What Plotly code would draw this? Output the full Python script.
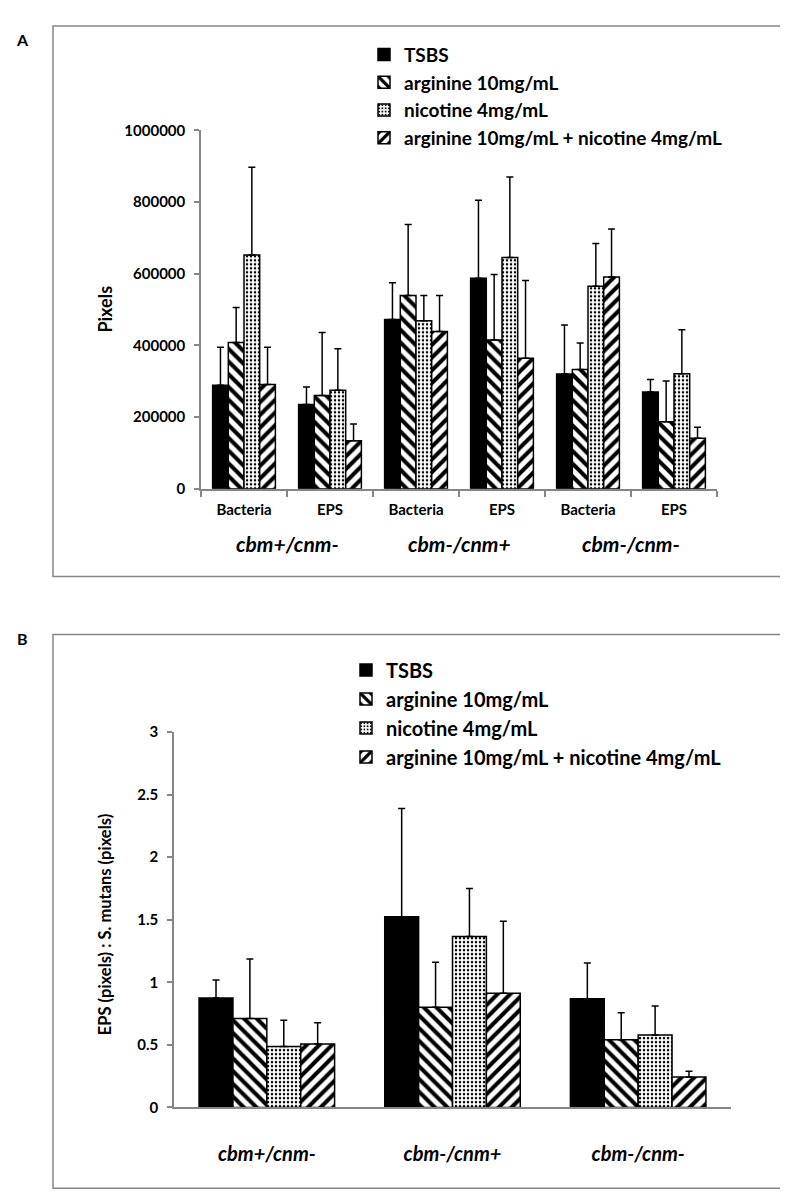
import plotly.graph_objects as go

# ---------------- data ----------------
series_names = ["TSBS", "arginine 10mg/mL", "nicotine 4mg/mL",
                "arginine 10mg/mL + nicotine 4mg/mL"]

# Panel A: 6 bars per series (Bacteria / EPS for each strain)
sub_labels_a = ["Bacteria", "EPS", "Bacteria", "EPS", "Bacteria", "EPS"]
strain_labels = ["cbm+/cnm-", "cbm-/cnm+", "cbm-/cnm-"]

tsbs_a = [289000, 235000, 472000, 587000, 320000, 270000]
tsbs_a_sd = [106000, 49000, 103000, 218000, 137000, 35000]
arg_a = [408000, 260000, 539000, 415000, 333000, 187000]
arg_a_sd = [98000, 176000, 198000, 183000, 74000, 114000]
nic_a = [652000, 275000, 469000, 645000, 565000, 321000]
nic_a_sd = [245000, 116000, 70000, 225000, 119000, 123000]
combo_a = [291000, 134000, 439000, 364000, 591000, 141000]
combo_a_sd = [104000, 47000, 100000, 217000, 134000, 31000]

# Panel B: EPS : S. mutans ratio per strain
tsbs_b = [0.874, 1.525, 0.869]
tsbs_b_sd = [0.144, 0.865, 0.286]
arg_b = [0.711, 0.80, 0.541]
arg_b_sd = [0.475, 0.36, 0.215]
nic_b = [0.486, 1.367, 0.578]
nic_b_sd = [0.21, 0.383, 0.233]
combo_b = [0.507, 0.913, 0.244]
combo_b_sd = [0.17, 0.575, 0.045]

yticks_a = [0, 200000, 400000, 600000, 800000, 1000000]
yticks_b = [0, 0.5, 1, 1.5, 2, 2.5, 3]

# ---------------- styling ----------------
FONT = "Lato"
W, H = 788, 1201
GRAY = "#868686"

patterns = [
    dict(shape=""),
    dict(shape="\\", size=9, solidity=0.45, fgcolor="black", bgcolor="white", fillmode="replace"),
    dict(shape=".", size=4, solidity=0.3, fgcolor="black", bgcolor="white", fillmode="replace"),
    dict(shape="/", size=9, solidity=0.45, fgcolor="black", bgcolor="white", fillmode="replace"),
]
colors = ["black", "white", "white", "white"]

def py(px):
    return 1 - px / H

def px_x(px):
    return px / W

fig = go.Figure()

data_a = [(tsbs_a, tsbs_a_sd), (arg_a, arg_a_sd), (nic_a, nic_a_sd), (combo_a, combo_a_sd)]
data_b = [(tsbs_b, tsbs_b_sd), (arg_b, arg_b_sd), (nic_b, nic_b_sd), (combo_b, combo_b_sd)]

x_a = list(range(len(sub_labels_a)))

for i, (name, (vals, sd)) in enumerate(zip(series_names, data_a)):
    fig.add_trace(go.Bar(
        x=x_a, y=vals, name=name, xaxis="x", yaxis="y", legend="legend",
        marker=dict(color=colors[i], line=dict(color="black", width=1.5), pattern=patterns[i]),
        error_y=dict(type="data", array=sd, arrayminus=[0] * len(sd), symmetric=False,
                     color="black", thickness=1.5, width=3.5),
    ))

for i, (name, (vals, sd)) in enumerate(zip(series_names, data_b)):
    fig.add_trace(go.Bar(
        x=strain_labels, y=vals, name=name, xaxis="x2", yaxis="y2", legend="legend2",
        marker=dict(color=colors[i], line=dict(color="black", width=1.5), pattern=patterns[i]),
        error_y=dict(type="data", array=sd, arrayminus=[0] * len(sd), symmetric=False,
                     color="black", thickness=1.5, width=3.5),
    ))

tickfont = dict(family=FONT, size=15, color="black", weight="bold")

fig.update_layout(
    width=W, height=H,
    margin=dict(l=0, r=0, t=0, b=0),
    paper_bgcolor="white", plot_bgcolor="white",
    barmode="group", bargap=0.27, bargroupgap=0,
    font=dict(family=FONT, color="black"),
    xaxis=dict(
        domain=[px_x(193), px_x(709)], anchor="y",
        range=[-0.5, 5.5], tickmode="array", tickvals=x_a, ticktext=sub_labels_a,
        ticks="", showline=True, linecolor=GRAY, linewidth=1.5,
        tickfont=tickfont, ticklabelstandoff=6, showgrid=False, zeroline=False,
        minor=dict(tickmode="array", tickvals=[v - 0.5 for v in range(len(sub_labels_a) + 1)],
                   ticks="outside", ticklen=6, tickcolor=GRAY, tickwidth=1.5, showgrid=False),
    ),
    yaxis=dict(
        domain=[py(478), py(114)], anchor="x",
        range=[0, 1000000], tickmode="array", tickvals=yticks_a,
        ticktext=[str(v) for v in yticks_a],
        ticks="outside", ticklen=5, tickcolor=GRAY, tickwidth=1.5,
        showline=True, linecolor=GRAY, linewidth=1.5, showgrid=False, zeroline=False,
        tickfont=tickfont, ticklabelstandoff=6,
    ),
    xaxis2=dict(
        domain=[px_x(166), px_x(723)], anchor="y2",
        type="category", ticks="", showline=True, linecolor=GRAY, linewidth=1.5,
        tickfont=dict(family=FONT, size=20, color="black", weight="bold", style="italic"),
        ticklabelstandoff=28, showgrid=False, zeroline=False,
    ),
    yaxis2=dict(
        domain=[py(1106), py(725)], anchor="x2",
        range=[0, 3], tickmode="array", tickvals=yticks_b,
        ticks="outside", ticklen=5, tickcolor=GRAY, tickwidth=1.5,
        showline=True, linecolor=GRAY, linewidth=1.5, showgrid=False, zeroline=False,
        tickfont=tickfont, ticklabelstandoff=6,
    ),
    legend=dict(
        x=px_x(356), y=py(18), xanchor="left", yanchor="top",
        font=dict(family=FONT, size=19, color="black", weight="bold"),
        bgcolor="rgba(0,0,0,0)", tracegroupgap=0, itemwidth=30,
    ),
    legend2=dict(
        x=px_x(338), y=py(642), xanchor="left", yanchor="top",
        font=dict(family=FONT, size=20, color="black", weight="bold"),
        bgcolor="rgba(0,0,0,0)", tracegroupgap=0, itemwidth=30,
    ),
)

# frames around each panel
fig.add_shape(type="rect", xref="paper", yref="paper",
              x0=px_x(45), x1=px_x(773), y0=py(567), y1=py(8),
              line=dict(color=GRAY, width=1.5), fillcolor="rgba(0,0,0,0)", layer="below")
fig.add_shape(type="rect", xref="paper", yref="paper",
              x0=px_x(45), x1=px_x(773), y0=py(1188), y1=py(626),
              line=dict(color=GRAY, width=1.5), fillcolor="rgba(0,0,0,0)", layer="below")

# panel letters
for letter, ypx in (("A", 22), ("B", 630)):
    fig.add_annotation(text=letter, xref="paper", yref="paper", x=px_x(14), y=py(ypx),
                       xanchor="center", yanchor="middle", showarrow=False,
                       font=dict(family=FONT, size=16, color="black", weight="bold"))

# y axis titles
fig.add_annotation(text="Pixels", xref="paper", yref="paper", x=px_x(97), y=py(296),
                   xanchor="center", yanchor="middle", textangle=-90, showarrow=False,
                   font=dict(family=FONT, size=18, color="black", weight="bold"))
fig.add_annotation(text="EPS (pixels) : S. mutans (pixels)", xref="paper", yref="paper",
                   x=px_x(97), y=py(921), xanchor="center", yanchor="middle",
                   textangle=-90, showarrow=False,
                   font=dict(family=FONT, size=16.5, color="black", weight="bold"))

# strain labels under panel A
for k, s in enumerate(strain_labels):
    fig.add_annotation(text=s, xref="x", yref="paper", x=2 * k + 0.5, y=py(533),
                       xanchor="center", yanchor="middle", showarrow=False,
                       font=dict(family=FONT, size=21, color="black", weight="bold", style="italic"))

fig.write_html("out.html")
